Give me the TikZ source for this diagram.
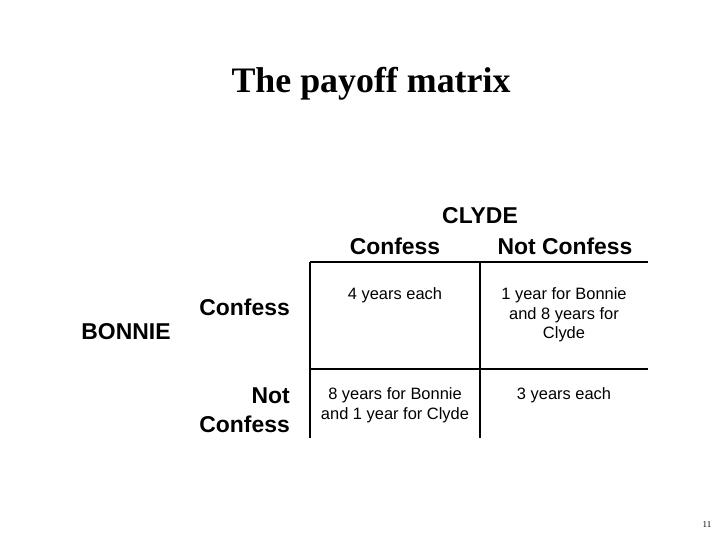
\documentclass[tikz,border=0pt]{standalone}
\usepackage{fontspec}
\setmainfont{Liberation Serif}
\setsansfont{Liberation Sans}
\begin{document}
\begin{tikzpicture}[x=1bp,y=-1bp,
  hdr/.style={font=\sffamily\bfseries\fontsize{23}{26}\selectfont,inner sep=0},
  cell/.style={font=\sffamily\fontsize{16.5}{20}\selectfont,align=center,inner sep=0,anchor=north},
  grid/.style={line width=1.5bp}]
\useasboundingbox (0,0) rectangle (720,540);
\node[font=\bfseries\fontsize{36}{40}\selectfont,inner sep=0] (title) at (371,84) {The payoff matrix};
\node[hdr] (clyde) at (480,216) {CLYDE};
\node[hdr] (cc) at (395,246) {Confess};
\node[hdr] (cnc) at (565,246) {Not Confess};
\node[hdr] (bonnie) at (126,332) {BONNIE};
\node[hdr,anchor=east] (bc) at (290,307) {Confess};
\node[hdr,align=right,anchor=east,font=\sffamily\bfseries\fontsize{23}{29}\selectfont] (bnc) at (290,410) {Not\\Confess};
\coordinate (a1) at (310,262); \coordinate (a2) at (310,438);
\coordinate (b1) at (480,262); \coordinate (b2) at (480,438);
\coordinate (h1) at (310,262); \coordinate (h2) at (648,262);
\coordinate (m1) at (310,369); \coordinate (m2) at (648,369);
\draw[grid] (a1)--(a2) (b1)--(b2) (h1)--(h2) (m1)--(m2);
\node[cell] (c11) at (395,287) {4 years each};
\node[cell] (c12) at (564,287) {1 year for Bonnie\\and 8 years for\\Clyde};
\node[cell] (c21) at (395,387) {8 years for Bonnie\\and 1 year for Clyde};
\node[cell] (c22) at (564,387) {3 years each};
\node[font=\fontsize{9}{10}\selectfont,inner sep=0] (pg) at (707,525) {11};
\end{tikzpicture}
\end{document}
